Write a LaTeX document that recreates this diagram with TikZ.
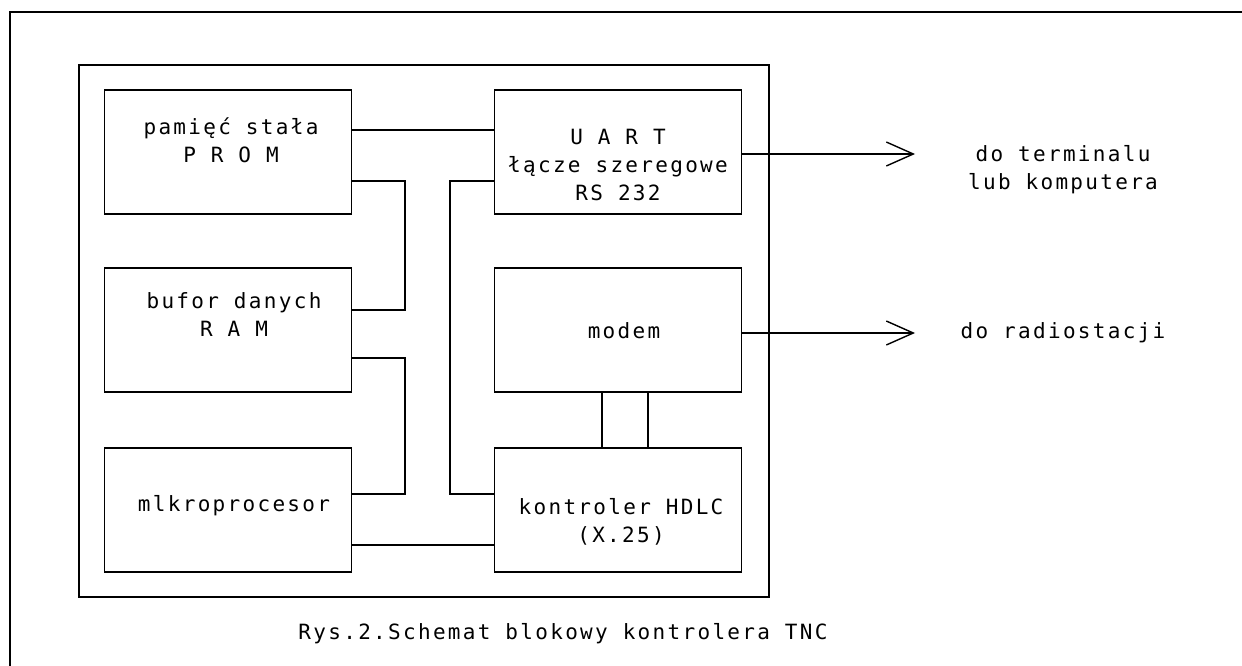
\documentclass[tikz,border=0pt]{standalone}
\usepackage{fontspec}
\setmainfont{DejaVu Sans Mono}[LetterSpace=11]
\usetikzlibrary{arrows.meta}
\begin{document}
\begin{tikzpicture}[x=1pt,y=-1pt,
  box/.style={draw,line width=1.4pt,minimum width=247pt,minimum height=124pt,inner sep=0pt},
  txt/.style={font=\fontsize{21}{28}\selectfont,align=center,inner sep=0pt},
  wire/.style={line width=1.4pt},
  outarrow/.style={line width=1.4pt,-{Straight Barb[length=27pt,width=24pt,line width=1.4pt]}}]
\useasboundingbox (0,0) rectangle (1242,666);
\fill[white] (0,0) rectangle (1242,666);
% outer frame (cut off at right and bottom)
\draw[line width=2.6pt] (10,680) -- (10,12) -- (1260,12);
% inner frame
\node[draw,line width=1.4pt,minimum width=690pt,minimum height=532pt,inner sep=0pt] (frame) at (424,331) {};
% blocks
\node[box] (prom) at (228,152) {};
\node[box] (ram) at (228,330) {};
\node[box] (mik) at (228,510) {};
\node[box] (uart) at (618,152) {};
\node[box] (modem) at (618,330) {};
\node[box] (hdlc) at (618,510) {};
% texts
\node[txt] (tprom) at (231,140) {pamięć stała\\P R O M};
\node[txt] (tram) at (234,315) {bufor danych\\R A M};
\node[txt] (tmik) at (234,506) {mlkroprocesor};
\node[txt] (tuart) at (618,165) {U A R T\\łącze szeregowe\\RS 232};
\node[txt] (tmodem) at (624,331) {modem};
\node[txt] (thdlc) at (621,522) {kontroler HDLC\\(X.25)};
\node[txt] (tterm) at (1063,170) {do terminalu\\lub komputera};
\node[txt] (tradio) at (1063,333) {do radiostacji};
\node[txt] (tcap) at (563,634) {Rys.2.Schemat blokowy kontrolera TNC};
% arrow end points
\coordinate (aterm) at (915,154);
\coordinate (aradio) at (915,333);
% connectors
\draw[wire] (prom.east |- 0,130) -- (uart.west |- 0,130);
\draw[wire] (prom.east |- 0,181) -| (405,310) -- (ram.east |- 0,310);
\draw[wire] (ram.east |- 0,358) -| (405,494) -- (mik.east |- 0,494);
\draw[wire] (uart.west |- 0,181) -| (450,494) -- (hdlc.west |- 0,494);
\draw[wire] (mik.east |- 0,545) -- (hdlc.west |- 0,545);
\draw[wire] (modem.south -| 602,0) -- (hdlc.north -| 602,0);
\draw[wire] (modem.south -| 648,0) -- (hdlc.north -| 648,0);
\draw[outarrow] (uart.east |- aterm) -- (aterm);
\draw[outarrow] (modem.east |- aradio) -- (aradio);
\end{tikzpicture}
\end{document}
